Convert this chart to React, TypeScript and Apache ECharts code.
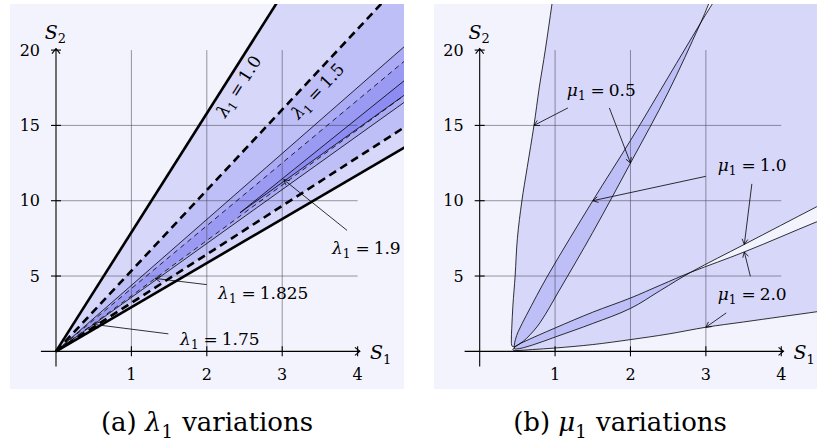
import { useEffect, useRef } from "react";
import * as echarts from "echarts";

const FONT = "DejaVu Serif, serif";
const INK = "#000";
const FILL = "rgba(70,70,235,0.165)";
const GRID_LINE = "rgba(70,70,90,0.55)";

// Shared axis layout (data units)
const xTicks = [1, 2, 3, 4];
const yTicks = [5, 10, 15, 20];
const xGridLines = [1, 2, 3];
const yGridLines = [5, 10, 15];
const xAxisSpan = [-0.2, 4.03];
const yAxisSpan = [-1.0, 20.1];

// (a) λ1 variations: admissible cones S2 = k·S1
const lambdaNames = ["1.0", "1.5", "1.75", "1.825"];
const lambdaUpper = [7.9, 5.35, 4.38, 4.17];
const lambdaLower = [2.93, 3.22, 3.58, 3.68];
const lambdaDashed = [false, true, false, true];
const lambdaBold = [true, true, false, false];
// λ1 = 1.9: narrow region opening from its tip
const lambda19 = [[4.7, 18.3], [2.44, 9.2], [4.7, 17.3]];
// rotated tags sitting along the two outer cones
const lambdaTagAt = [[2.42, 17.6], [3.47, 17.3]];
// annotated values with arrows
const lambdaNotes = ["1.9", "1.825", "1.75"];
const lambdaNoteAt = [[3.66, 6.89], [2.15, 3.88], [1.646, 0.84]];
const lambdaNoteTail = [[3.86, 8.03], [2.0, 4.43], [1.49, 1.16]];
const lambdaNoteHead = [[3.02, 11.4], [1.315, 4.84], [0.5, 1.79]];

// (b) μ1 variations: each region is bounded by one U-shaped curve
const mu05Boundary = [
  [1.0, 24.5], [0.96, 23.1], [0.87, 20], [0.79, 17.5], [0.72, 15], [0.63, 12.2],
  [0.56, 10], [0.5, 7.5], [0.47, 5], [0.44, 3], [0.425, 1.5], [0.42, 0.7],
  [0.43, 0.35], [0.47, 0.33], [0.53, 0.5], [0.62, 0.85], [0.8, 1.9], [1.05, 4.0],
  [1.5, 7.9], [2.0, 12.5], [2.5, 17.2], [2.93, 21.8], [3.04, 23.1], [3.12, 24.1],
];
const mu10Boundary = [
  [3.22, 24.1], [3.09, 23.1], [2.93, 21.8], [2.5, 18.2], [2.0, 14.0], [1.5, 10.0],
  [0.9, 5.0], [0.62, 2.4], [0.51, 1.3], [0.475, 0.8], [0.46, 0.4], [0.47, 0.15],
  [0.7, 0.42], [1.0, 0.95], [1.5, 1.85], [2.0, 2.85], [2.4, 4.05], [2.8, 5.25],
  [3.51, 7.1], [4.47, 9.6], [4.9, 10.7], [5.3, 11.7],
];
const mu20Boundary = [
  [4.9, 2.95], [4.5, 2.65], [4.0, 2.3], [3.5, 1.95], [3.0, 1.6], [2.5, 1.15],
  [2.0, 0.78], [1.5, 0.45], [1.0, 0.22], [0.7, 0.12], [0.48, 0.05], [0.44, 0.1],
  [0.47, 0.3], [0.55, 0.55], [1.0, 1.55], [1.5, 2.6], [2.0, 3.54], [2.4, 4.4],
  [2.8, 5.25], [3.51, 6.6], [4.47, 8.6], [4.9, 9.45],
];
const mu10FarCorner = [6, 30];
const muNames = ["0.5", "1.0", "2.0"];
const muNoteAt = [[1.156, 17.33], [3.157, 12.35], [3.157, 3.83]];
const muNoteTail = [[[1.17, 16.16], [1.72, 16.16]], [[3.0, 11.62], [3.61, 11.12]], [[3.59, 4.98], [3.27, 2.55]]];
const muNoteHead = [[[0.72, 15], [2.0, 12.5]], [[1.5, 10.0], [3.51, 7.1]], [[3.51, 6.6], [3.0, 1.6]]];

const captions = [
  { tag: "(a)", sym: "λ", x: 207, y: 422 },
  { tag: "(b)", sym: "μ", x: 620, y: 422 },
];

const TICK_SIZE = 16;
const NOTE_SIZE = 17;
const AXIS_TITLE_SIZE = 19;
const CAPTION_SIZE = 26;

// m: math italic, n: upright, e: relation sign, s: lowered subscript
const mathRich = (size: number) => {
  const lh = Math.round(size * 1.4);
  return {
    m: { fontFamily: FONT, fontSize: size, fontStyle: "italic", fill: INK, lineHeight: lh, verticalAlign: "middle" },
    n: { fontFamily: FONT, fontSize: size, fill: INK, lineHeight: lh, verticalAlign: "middle" },
    e: { fontFamily: FONT, fontSize: size, fill: INK, lineHeight: lh, verticalAlign: "middle", padding: [0, 4, 0, 4] },
    s: { fontFamily: FONT, fontSize: Math.round(size * 0.7), fill: INK, lineHeight: Math.round(size * 0.72), verticalAlign: "bottom", padding: [0, 1, 0, 0] },
  };
};

const eq = (sym: string, val: string) => `{m|${sym}}{s|1}{e|=}{n|${val}}`;

function arrow(api: any, tail: number[], head: number[]) {
  const [tx, ty] = api.coord(tail);
  const [hx, hy] = api.coord(head);
  const a = Math.atan2(hy - ty, hx - tx);
  const len = 6;
  const sp = 0.5;
  const p1 = [hx - len * Math.cos(a - sp), hy - len * Math.sin(a - sp)];
  const p2 = [hx - len * Math.cos(a + sp), hy - len * Math.sin(a + sp)];
  return [
    { type: "line", shape: { x1: tx, y1: ty, x2: hx, y2: hy }, style: { stroke: INK, lineWidth: 0.8 } },
    { type: "polyline", shape: { points: [p1, [hx, hy], p2] }, style: { stroke: INK, lineWidth: 0.8, fill: null } },
  ];
}

function polygonEl(api: any, pts: number[][], smooth = 0) {
  return { type: "polygon", shape: { points: pts.map((p) => api.coord(p)), smooth }, style: { fill: FILL } };
}

function strokeEl(api: any, pts: number[][], width: number, dash?: number[], smooth = 0) {
  return {
    type: "polyline",
    shape: { points: pts.map((p) => api.coord(p)), smooth },
    style: { stroke: INK, lineWidth: width, fill: null, lineDash: dash || null, lineCap: "butt", lineJoin: "round" },
  };
}

// grid, axes, ticks and axis titles of one panel
function frameChildren(api: any) {
  const kids: any[] = [];
  xGridLines.forEach((x) => {
    const [a, b] = [api.coord([x, 0]), api.coord([x, 20])];
    kids.push({ type: "line", shape: { x1: a[0], y1: a[1], x2: b[0], y2: b[1] }, style: { stroke: GRID_LINE, lineWidth: 1 } });
  });
  yGridLines.forEach((y) => {
    const [a, b] = [api.coord([0, y]), api.coord([4, y])];
    kids.push({ type: "line", shape: { x1: a[0], y1: a[1], x2: b[0], y2: b[1] }, style: { stroke: GRID_LINE, lineWidth: 1 } });
  });
  const o = api.coord([0, 0]);
  const xa = api.coord([xAxisSpan[0], 0]);
  const xb = api.coord([xAxisSpan[1], 0]);
  const ya = api.coord([0, yAxisSpan[0]]);
  const yb = api.coord([0, yAxisSpan[1]]);
  const axisStyle = { stroke: INK, lineWidth: 1.1 };
  kids.push({ type: "line", shape: { x1: xa[0], y1: xa[1], x2: xb[0], y2: xb[1] }, style: axisStyle });
  kids.push({ type: "line", shape: { x1: ya[0], y1: ya[1], x2: yb[0], y2: yb[1] }, style: axisStyle });
  kids.push({ type: "polyline", shape: { points: [[xb[0] - 5, xb[1] - 4], [xb[0], xb[1]], [xb[0] - 5, xb[1] + 4]] }, style: { ...axisStyle, fill: null } });
  kids.push({ type: "polyline", shape: { points: [[yb[0] - 4, yb[1] + 5], [yb[0], yb[1]], [yb[0] + 4, yb[1] + 5]] }, style: { ...axisStyle, fill: null } });
  xTicks.forEach((t) => {
    const p = api.coord([t, 0]);
    kids.push({ type: "line", shape: { x1: p[0], y1: p[1] - 5, x2: p[0], y2: p[1] + 5 }, style: axisStyle });
    kids.push({ type: "text", x: p[0], y: p[1] + 23, style: { text: String(t), fontFamily: FONT, fontSize: TICK_SIZE, fill: INK, align: "center", verticalAlign: "middle" } });
  });
  yTicks.forEach((t) => {
    const p = api.coord([0, t]);
    kids.push({ type: "line", shape: { x1: p[0] - 5, y1: p[1], x2: p[0] + 5, y2: p[1] }, style: axisStyle });
    kids.push({ type: "text", x: p[0] - 16, y: p[1], style: { text: String(t), fontFamily: FONT, fontSize: TICK_SIZE, fill: INK, align: "right", verticalAlign: "middle" } });
  });
  kids.push({ type: "text", x: o[0], y: yb[1] - 17, style: { text: "{m|S}{s|2}", rich: mathRich(AXIS_TITLE_SIZE), align: "center", verticalAlign: "middle" } });
  kids.push({ type: "text", x: xb[0] + 10, y: xb[1] + 1, style: { text: "{m|S}{s|1}", rich: mathRich(AXIS_TITLE_SIZE), align: "left", verticalAlign: "middle" } });
  return kids;
}

function cone(i: number, far: number) {
  return [[far, lambdaUpper[i] * far], [0, 0], [far, lambdaLower[i] * far]];
}

const single = [[0, 0]];
const MU_SMOOTH = 0.35;

export default function App() {
  const ref = useRef<HTMLDivElement>(null);
  useEffect(() => {
    if (!ref.current) return;
    const chart = echarts.init(ref.current, null, { renderer: "svg" });
    const gridBase = { top: 4, height: 385, show: true, backgroundColor: "#f3f3fd", borderWidth: 0 };
    chart.setOption({
      animation: false,
      backgroundColor: "#fff",
      grid: [
        { ...gridBase, left: 10, width: 394 },
        { ...gridBase, left: 434, width: 383 },
      ],
      xAxis: [
        { gridIndex: 0, type: "value", min: -0.61, max: 4.615, show: false },
        { gridIndex: 1, type: "value", min: -0.606, max: 4.474, show: false },
      ],
      yAxis: [
        { gridIndex: 0, type: "value", min: -2.5, max: 23.06, show: false },
        { gridIndex: 1, type: "value", min: -2.5, max: 23.06, show: false },
      ],
      series: [
        // (a) shaded cones
        {
          type: "custom", xAxisIndex: 0, yAxisIndex: 0, clip: true, z: 1, data: single,
          renderItem: (_p: any, api: any) => ({
            type: "group",
            children: [...lambdaNames.map((_, i) => polygonEl(api, cone(i, 6))), polygonEl(api, lambda19)],
          }),
        },
        {
          type: "custom", xAxisIndex: 0, yAxisIndex: 0, clip: true, z: 2, data: single,
          renderItem: (_p: any, api: any) => ({ type: "group", children: frameChildren(api) }),
        },
        {
          type: "custom", xAxisIndex: 0, yAxisIndex: 0, clip: true, z: 3, data: single,
          renderItem: (_p: any, api: any) => {
            const kids: any[] = [];
            lambdaNames.forEach((_, i) => {
              const w = lambdaBold[i] ? 2.6 : 0.8;
              const dash = lambdaDashed[i] ? (lambdaBold[i] ? [8, 5] : [5, 4]) : undefined;
              const c = cone(i, 6);
              kids.push(strokeEl(api, [c[1], c[0]], w, dash));
              kids.push(strokeEl(api, [c[1], c[2]], w, dash));
            });
            kids.push(strokeEl(api, lambda19, 0.8));
            return { type: "group", children: kids };
          },
        },
        {
          type: "custom", xAxisIndex: 0, yAxisIndex: 0, clip: true, z: 4, data: single,
          renderItem: (_p: any, api: any) => {
            const kids: any[] = [];
            lambdaTagAt.forEach((pos, i) => {
              const p = api.coord(pos);
              const o = api.coord([0, 0]);
              const q = api.coord([1, lambdaUpper[i]]);
              const rot = Math.atan2(o[1] - q[1], q[0] - o[0]);
              kids.push({ type: "text", x: p[0], y: p[1], rotation: rot, style: { text: eq("λ", lambdaNames[i]), rich: mathRich(NOTE_SIZE), align: "center", verticalAlign: "middle" } });
            });
            lambdaNotes.forEach((v, i) => {
              const p = api.coord(lambdaNoteAt[i]);
              kids.push({ type: "text", x: p[0], y: p[1], style: { text: eq("λ", v), rich: mathRich(NOTE_SIZE), align: "left", verticalAlign: "middle" } });
              kids.push(...arrow(api, lambdaNoteTail[i], lambdaNoteHead[i]));
            });
            return { type: "group", children: kids };
          },
        },
        // (b) shaded regions
        {
          type: "custom", xAxisIndex: 1, yAxisIndex: 1, clip: true, z: 1, data: single,
          renderItem: (_p: any, api: any) => ({
            type: "group",
            children: [
              polygonEl(api, mu05Boundary, MU_SMOOTH),
              polygonEl(api, [...mu10Boundary, mu10FarCorner], MU_SMOOTH),
              polygonEl(api, mu20Boundary, MU_SMOOTH),
            ],
          }),
        },
        {
          type: "custom", xAxisIndex: 1, yAxisIndex: 1, clip: true, z: 2, data: single,
          renderItem: (_p: any, api: any) => ({ type: "group", children: frameChildren(api) }),
        },
        {
          type: "custom", xAxisIndex: 1, yAxisIndex: 1, clip: true, z: 3, data: single,
          renderItem: (_p: any, api: any) => ({
            type: "group",
            children: [mu05Boundary, mu10Boundary, mu20Boundary].map((b) => strokeEl(api, b, 0.8, undefined, MU_SMOOTH)),
          }),
        },
        {
          type: "custom", xAxisIndex: 1, yAxisIndex: 1, clip: true, z: 4, data: single,
          renderItem: (_p: any, api: any) => {
            const kids: any[] = [];
            muNames.forEach((v, i) => {
              const p = api.coord(muNoteAt[i]);
              kids.push({ type: "text", x: p[0], y: p[1], style: { text: eq("μ", v), rich: mathRich(NOTE_SIZE), align: "left", verticalAlign: "middle" } });
              muNoteTail[i].forEach((t, k) => kids.push(...arrow(api, t, muNoteHead[i][k])));
            });
            return { type: "group", children: kids };
          },
        },
      ],
      graphic: captions.map((c) => ({
        type: "text",
        x: c.x,
        y: c.y,
        style: {
          text: `{n|${c.tag} }{m|${c.sym}}{s|1}{n| variations}`,
          rich: mathRich(CAPTION_SIZE),
          align: "center",
          verticalAlign: "middle",
        },
      })),
    });
    return () => chart.dispose();
  }, []);
  return <div ref={ref} style={{ position: "fixed", left: 0, top: 0, width: 817, height: 447, background: "#fff" }} />;
}
